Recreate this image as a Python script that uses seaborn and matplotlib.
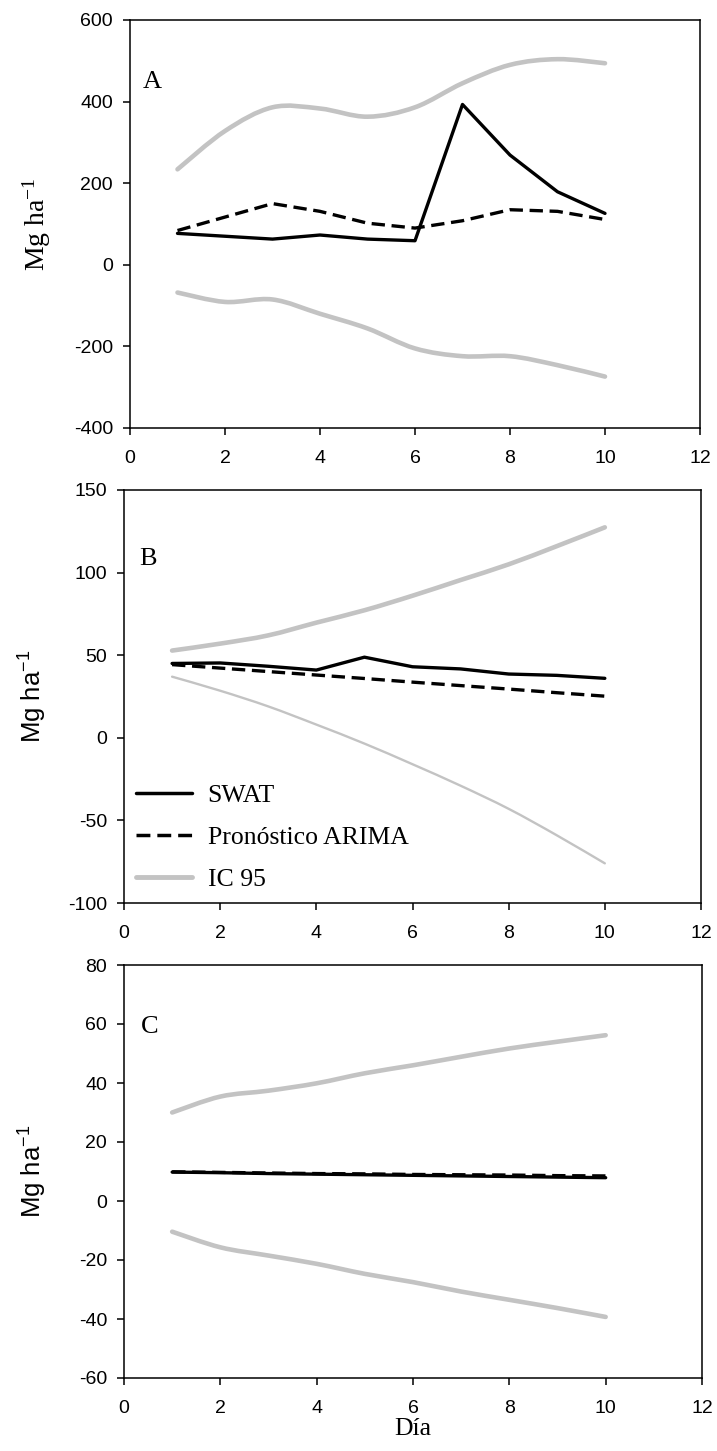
import numpy as np
import pandas as pd
import matplotlib
matplotlib.use("Agg")
import matplotlib.pyplot as plt
from matplotlib.path import Path
from matplotlib.patches import PathPatch
from matplotlib.lines import Line2D
import seaborn as sns

# ---- data -------------------------------------------------------------
dias = [1, 2, 3, 4, 5, 6, 7, 8, 9, 10]

# Panel A
swat_a = [77, 70, 63, 73, 63, 59, 393, 269, 179, 126]
arima_a = [84, 117, 150, 131, 102, 90, 108, 135, 131, 111]
ic_sup_a = [234, 328, 386, 383, 363, 386, 445, 490, 504, 494]
ic_inf_a = [-68, -91, -85, -120, -156, -205, -224, -224, -246, -274]

# Panel B
swat_b = [45, 45.3, 43.3, 41, 48.8, 43, 41.7, 38.6, 37.8, 36]
arima_b = [44.3, 42.2, 40.1, 38, 35.9, 33.7, 31.6, 29.5, 27.3, 25.2]
ic_sup_b = [52.8, 57, 62, 69.7, 77.2, 86, 95.5, 105, 116, 127.4]
ic_inf_b = [37, 28.5, 19, 8, -3.5, -16, -29, -43, -59, -76]

# Panel C
swat_c = [9.8, 9.6, 9.3, 9.1, 8.9, 8.7, 8.5, 8.3, 8.1, 7.9]
arima_c = [9.9, 9.7, 9.5, 9.3, 9.2, 9.0, 8.9, 8.8, 8.6, 8.5]
ic_sup_c = [30, 35.4, 37.4, 39.9, 43.3, 46, 48.9, 51.7, 54, 56.2]
ic_inf_c = [-10.4, -15.7, -18.5, -21.3, -24.7, -27.5, -30.7, -33.5, -36.3, -39.3]

paneles = ["A", "B", "C"]
y_limites = [(-400, 600), (-100, 150), (-60, 80)]
y_pasos = [200, 50, 20]
x_ticks = [0, 2, 4, 6, 8, 10, 12]
etiquetas_serie = ["SWAT", "Pronóstico ARIMA", "IC 95"]

# ---- style ------------------------------------------------------------
sns.set_style("ticks")
SANS = ["Liberation Sans", "DejaVu Sans"]
SERIF = ["Liberation Serif", "DejaVu Serif"]
plt.rcParams["font.family"] = SANS
plt.rcParams["axes.unicode_minus"] = False
plt.rcParams["axes.linewidth"] = 1.1
plt.rcParams["axes.edgecolor"] = "black"
plt.rcParams["text.color"] = "black"
plt.rcParams["axes.labelcolor"] = "black"
plt.rcParams["xtick.color"] = "black"
plt.rcParams["ytick.color"] = "black"

GRIS = "#c3c3c3"
NEGRO = "black"
LW_NEGRO = 2.4
LW_GRIS = 3.3
DASH = (4.0, 2.0)

fig = plt.figure(figsize=(7.17, 14.51), dpi=100)
W, H = 717, 1451


def px_axes(left, right, top, bottom):
    return fig.add_axes([left / W, 1 - bottom / H, (right - left) / W, (bottom - top) / H])


axes = [
    px_axes(130, 700, 20, 428),
    px_axes(124, 701, 490, 903),
    px_axes(124, 702, 965, 1378),
]


def curva_suave(ax, x, y, lw):
    """Smooth (Catmull-Rom) curve through the points, drawn as a Bezier path."""
    x = np.asarray(x, float)
    y = np.asarray(y, float)
    n = len(x)
    verts = [(x[0], y[0])]
    codes = [Path.MOVETO]
    for i in range(n - 1):
        p0 = (x[i - 1], y[i - 1]) if i > 0 else (x[i], y[i])
        p1 = (x[i], y[i])
        p2 = (x[i + 1], y[i + 1])
        p3 = (x[i + 2], y[i + 2]) if i + 2 < n else (x[i + 1], y[i + 1])
        c1 = (p1[0] + (p2[0] - p0[0]) / 6, p1[1] + (p2[1] - p0[1]) / 6)
        c2 = (p2[0] - (p3[0] - p1[0]) / 6, p2[1] - (p3[1] - p1[1]) / 6)
        verts += [c1, c2, p2]
        codes += [Path.CURVE4] * 3
    patch = PathPatch(Path(verts, codes), transform=ax.transData, fill=False,
                      edgecolor=GRIS, lw=lw, capstyle="round", joinstyle="round")
    ax.add_patch(patch)


series = [
    (swat_a, arima_a, ic_sup_a, ic_inf_a),
    (swat_b, arima_b, ic_sup_b, ic_inf_b),
    (swat_c, arima_c, ic_sup_c, ic_inf_c),
]
letras_pos = [(0.023, 0.833), (0.026, 0.818), (0.03, 0.835)]
ylabel_x = [-0.135, -0.13, -0.13]

for k, ax in enumerate(axes):
    swat, arima, sup, inf = series[k]
    df = pd.DataFrame({"Día": dias, "SWAT": swat, "ARIMA": arima})

    curva_suave(ax, dias, sup, LW_GRIS)
    curva_suave(ax, dias, inf, 1.7 if k == 1 else LW_GRIS)

    sns.lineplot(data=df, x="Día", y="ARIMA", ax=ax, color=NEGRO, lw=LW_NEGRO,
                 dashes=False, legend=False)
    ax.lines[-1].set_dashes(DASH)
    sns.lineplot(data=df, x="Día", y="SWAT", ax=ax, color=NEGRO, lw=LW_NEGRO, legend=False)

    ax.set_xlim(0, 12)
    ax.set_ylim(*y_limites[k])
    ax.set_xticks(x_ticks)
    lo, hi = y_limites[k]
    ax.set_yticks(np.arange(lo, hi + 1, y_pasos[k]))
    ax.tick_params(axis="both", direction="out", length=5.2, width=1.1,
                   labelsize=14, top=False, right=False, colors="black")
    ax.tick_params(axis="x", pad=10.5)
    ax.tick_params(axis="y", pad=7)
    for s in ax.spines.values():
        s.set_visible(True)
        s.set_linewidth(1.1)

    if k == 0:
        ax.set_ylabel(r"Mg ha$\mathregular{^{-1}}$", family=SERIF, fontsize=20)
    else:
        ax.set_ylabel(r"Mg ha$\mathregular{^{-1}}$", family=SANS, fontsize=18.5)
    ax.yaxis.set_label_coords(ylabel_x[k], 0.5)

    if k == 2:
        ax.set_xlabel("Día", family=SERIF, fontsize=18.5, labelpad=1)
    else:
        ax.set_xlabel("")

    ax.text(*letras_pos[k], paneles[k], transform=ax.transAxes, family=SERIF,
            fontsize=19, ha="left", va="baseline")

# legend in panel B
handles = [
    Line2D([], [], color=NEGRO, lw=2.5),
    Line2D([], [], color=NEGRO, lw=2.5, dashes=DASH),
    Line2D([], [], color=GRIS, lw=3.5),
]
leg = axes[1].legend(handles, etiquetas_serie, loc="lower left",
                     bbox_to_anchor=(0.0, 0.0), frameon=False,
                     prop={"family": SERIF, "size": 18.5},
                     handlelength=2.2, handletextpad=0.6, labelspacing=0.75,
                     borderaxespad=0.25, borderpad=0.2)

fig.savefig("out.png", dpi=100)
